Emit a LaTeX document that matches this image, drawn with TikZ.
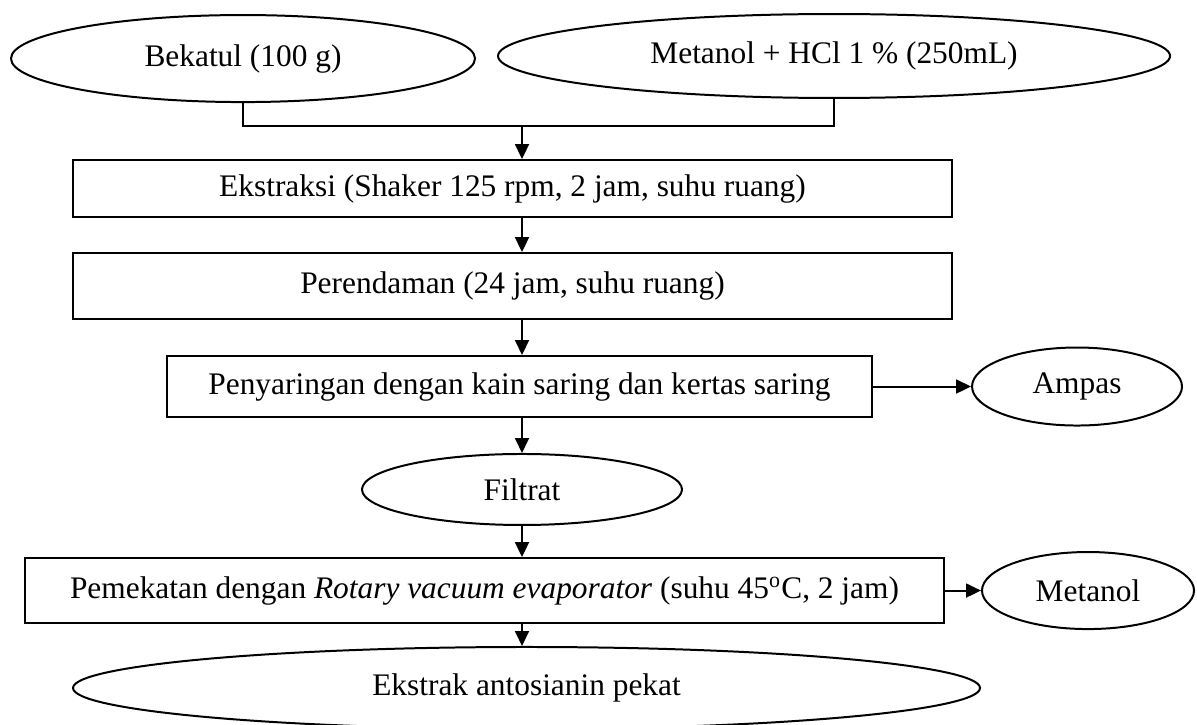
\documentclass[tikz,border=0pt]{standalone}
\usepackage{fontspec}
\setmainfont{Liberation Serif}
\usepackage{tikz}
\usetikzlibrary{calc,positioning,arrows.meta,shapes.geometric}

\begin{document}
\begin{tikzpicture}[>={Triangle[length=6pt,width=5.6pt]},
    proses/.style={draw,thick,rectangle,inner sep=0pt,font=\fontsize{12.6}{15}\selectfont},
    bahan/.style={draw,thick,ellipse,inner sep=0pt,font=\fontsize{12.6}{15}\selectfont}]
              \useasboundingbox (0,0) rectangle (16.891,-10.217);

              % bahan awal
              \node[bahan,minimum width=6.548cm,minimum height=1.228cm] (b1) at (3.429,-0.826) {Bekatul (100 g)};
              \node[bahan,minimum width=9.483cm,minimum height=1.185cm] (b2) at (11.769,-0.790) {Metanol + HCl 1 \% (250mL)};
              \coordinate (j) at (7.366,-1.778);

              % proses
              \node[proses,minimum width=12.404cm,minimum height=0.804cm] (p1) at (7.232,-2.660) {Ekstraksi (Shaker 125 rpm, 2 jam, suhu ruang)};
              \node[proses,minimum width=12.404cm,minimum height=0.931cm] (p2) at (7.232,-4.036) {Perendaman (24 jam, suhu ruang)};
              \node[proses,minimum width=9.948cm,minimum height=0.861cm] (p3) at (7.331,-5.454) {Penyaringan dengan kain saring dan kertas saring};
              \node[proses,minimum width=12.968cm,minimum height=0.917cm] (p4) at (6.837,-8.333) {Pemekatan dengan \textit{Rotary vacuum evaporator} (suhu 45\textsuperscript{o}C, 2 jam)};

              % hasil
              \node[bahan,minimum width=4.516cm,minimum height=1.002cm] (h1) at (7.366,-6.907) {Filtrat};
              \node[bahan,minimum width=2.963cm,minimum height=1.101cm] (h2) at (15.198,-5.454) {Ampas};
              \node[bahan,minimum width=2.992cm,minimum height=1.087cm] (h3) at (15.353,-8.333) {Metanol};
              \node[bahan,minimum width=12.799cm,minimum height=1.157cm] (h4) at (7.430,-9.708) {Ekstrak antosianin pekat};

              \draw[thick] (b1.south) |- (j) -| (b2.south);
              \draw[->,thick] (j) -- (p1.north -| j);
              \draw[->,thick] (p1.south -| j) -- (p2.north -| j);
              \draw[->,thick] (p2.south -| j) -- (p3.north -| j);
              \draw[->,thick] (p3.south -| j) -- (h1.north);
              \draw[->,thick] (h1.south) -- (p4.north -| j);
              \draw[->,thick] (p4.south -| j) -- (h4.north -| j);
              \draw[->,thick] (p3.east) -- (h2.west);
              \draw[->,thick] (p4.east) -- (h3.west);
            \end{tikzpicture}
\end{document}
